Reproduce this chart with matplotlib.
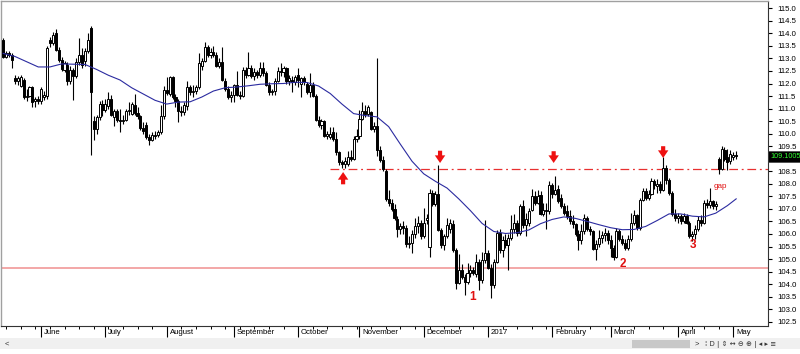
import matplotlib
matplotlib.use("Agg")
import matplotlib.pyplot as plt
import matplotlib.transforms as mtrans
from matplotlib.patches import Rectangle
import pandas as pd

# daily bars (Good Friday missing in the feed)
dates = pd.bdate_range("2016-05-13", "2017-05-02")
dates = dates[dates != pd.Timestamp("2017-04-14")]

opens = [
    113.73, 113.06, 113.20, 113.15, 112.20, 112.08, 111.90, 112.15, 111.45, 111.50, 111.85, 111.30, 111.38,  # may
    111.30, 111.45, 111.50, 113.75, 113.60, 114.00, 113.35, 112.95, 112.55, 112.75, 112.10, 112.55, 112.30,
    112.85, 113.15, 112.90, 113.30, 114.20, 110.50, 110.18, 110.65, 111.20,  # jun
    110.95, 111.10, 111.40, 110.65, 110.90, 110.55, 110.50, 110.55, 110.90, 110.80, 111.15, 110.82, 110.70,
    110.22, 110.35, 109.85, 109.75, 109.95, 109.95, 110.05, 110.70,  # jul
    111.75, 111.60, 112.25, 111.45, 111.30, 110.90, 110.85, 111.10, 111.85, 111.65, 111.70, 111.85, 112.70,
    112.90, 113.45, 113.15, 113.25, 113.15, 112.70, 112.85, 112.10, 111.80, 111.45,  # aug
    111.55, 111.95, 111.55, 111.50, 112.55, 112.35, 112.60, 112.30, 112.45, 112.35, 112.60, 112.40, 111.95,
    111.65, 111.70, 112.10, 112.50, 112.45, 112.60, 112.10, 112.15, 112.05,  # sep
    112.35, 112.00, 112.20, 112.00, 111.65, 111.95, 111.50, 110.55, 110.35, 110.50, 109.90, 109.85, 110.05,
    109.78, 109.25, 108.85, 108.80, 108.80, 109.05, 109.00, 109.80,  # oct
    109.90, 110.60, 110.90, 110.80, 110.85, 110.20, 110.30, 109.35, 108.95, 108.50, 107.40, 107.25, 107.00,
    106.60, 106.20, 106.30, 106.25, 105.60, 105.65, 106.00, 106.30, 106.45,  # nov
    105.90, 106.55, 105.50, 107.65, 107.20, 107.60, 106.15, 105.55, 105.90, 106.20, 106.40, 105.35, 104.05,
    104.55, 104.30, 104.10, 104.45, 104.55, 104.40, 104.90, 104.15, 104.95,  # dec
    105.25, 104.65, 103.95, 104.90, 106.05, 105.35, 105.75, 105.55, 105.85, 106.20, 106.45, 106.05, 107.10,
    106.35, 106.45, 106.95, 107.50, 107.25, 107.55, 106.80, 106.95, 106.90,  # jan
    107.95, 107.60, 107.80, 107.45, 107.10, 106.90, 106.70, 106.50, 106.40, 106.00, 105.75, 106.10, 106.65,
    106.20, 106.10, 105.40, 105.60, 105.85, 105.95, 106.05,  # feb
    105.75, 105.45, 105.10, 106.10, 105.80, 105.65, 105.45, 105.80, 106.45, 106.75, 106.25, 107.35, 107.70,
    107.45, 107.60, 108.10, 107.90, 108.00, 107.75, 108.65, 108.15, 107.65, 106.80,  # mar
    106.65, 106.70, 106.50, 106.70, 106.45, 105.90, 106.00, 106.20, 106.55, 106.45, 107.25, 107.15, 107.30,
    107.10, 109.00, 108.60, 109.35, 109.05, 108.90,  # apr
    109.05, 109.15,  # may
]
highs = [
    113.80, 113.30, 113.28, 113.20, 112.35, 112.30, 112.35, 112.20, 111.80, 111.90, 111.90, 111.45, 111.50,
    111.85, 111.70, 113.50, 113.85, 114.05, 114.17, 113.45, 113.05, 112.90, 112.85, 112.70, 112.60, 113.00,
    113.80, 113.40, 113.40, 114.00, 114.30, 110.70, 110.75, 111.30, 111.35,
    111.40, 111.65, 111.55, 111.00, 111.00, 111.00, 110.75, 111.00, 111.25, 111.25, 111.60, 111.05, 110.75,
    110.45, 110.45, 110.00, 110.05, 110.10, 110.15, 111.15, 111.90,
    112.25, 112.30, 112.30, 111.60, 111.40, 111.10, 111.25, 112.10, 111.95, 111.95, 111.95, 113.20, 113.00,
    113.65, 113.55, 113.40, 113.50, 113.25, 113.00, 113.45, 112.20, 111.90, 111.70,
    112.00, 112.50, 111.70, 112.65, 112.65, 113.25, 112.75, 112.60, 112.55, 112.85, 112.85, 112.50, 112.05,
    111.80, 112.20, 112.65, 112.80, 112.70, 112.65, 112.35, 112.30, 112.35,
    112.60, 112.25, 112.30, 112.05, 112.40, 112.05, 111.60, 110.70, 110.60, 110.55, 110.10, 110.25, 110.25,
    110.05, 109.30, 108.95, 109.05, 109.30, 109.35, 109.90, 110.20,
    110.95, 111.25, 111.15, 111.15, 110.90, 110.45, 113.00, 109.50, 109.10, 108.60, 107.75, 107.40, 107.20,
    106.70, 106.45, 106.50, 106.35, 105.90, 106.15, 106.65, 106.70, 106.55,
    107.05, 106.80, 107.80, 107.75, 107.70, 108.75, 106.25, 106.00, 106.65, 106.60, 106.55, 105.45, 105.20,
    104.80, 104.40, 104.85, 104.75, 104.70, 105.20, 105.00, 105.30, 106.55,
    105.35, 104.80, 105.00, 106.15, 106.20, 105.90, 106.00, 106.00, 106.75, 106.80, 106.55, 107.20, 107.35,
    106.85, 107.05, 107.80, 107.70, 107.75, 107.70, 107.25, 107.25, 108.10,
    108.05, 108.30, 107.95, 107.60, 107.25, 107.15, 106.95, 106.75, 106.45, 106.15, 106.40, 106.80, 106.70,
    106.30, 106.15, 105.75, 106.15, 106.10, 106.25, 106.15,
    105.95, 105.55, 106.25, 106.20, 105.95, 105.80, 105.95, 106.85, 106.95, 106.80, 107.45, 107.85, 107.85,
    107.75, 108.25, 108.20, 108.20, 108.10, 109.05, 108.75, 108.25, 107.70, 107.00,
    106.85, 106.80, 106.85, 106.80, 106.50, 106.10, 106.35, 106.70, 106.75, 107.35, 107.40, 107.85, 107.35,
    107.30, 109.05, 109.50, 109.45, 109.40, 109.35,
    109.25, 109.30,
]
lows = [
    113.00, 113.00, 113.05, 112.60, 111.98, 111.95, 111.85, 111.40, 111.30, 111.45, 111.05, 111.05, 111.20,
    111.20, 111.35, 111.40, 113.45, 113.55, 113.30, 112.85, 112.50, 112.45, 111.95, 112.00, 111.35, 112.20,
    112.75, 112.60, 112.70, 113.20, 109.15, 109.75, 110.00, 110.55, 110.70,
    110.85, 111.00, 110.70, 110.30, 110.45, 110.05, 110.40, 110.50, 110.75, 110.75, 110.75, 110.60, 110.15,
    110.00, 109.80, 109.55, 109.70, 109.80, 109.85, 110.00, 110.60,
    111.55, 111.50, 111.40, 111.05, 110.45, 110.70, 110.75, 110.95, 111.55, 111.45, 111.60, 111.80, 112.55,
    112.85, 113.05, 113.00, 113.05, 112.65, 112.60, 112.10, 111.70, 111.40, 111.25,
    111.25, 111.50, 111.40, 111.45, 112.20, 112.30, 112.20, 112.15, 112.20, 112.25, 112.30, 111.90, 111.55,
    111.55, 111.55, 112.05, 112.30, 112.25, 112.00, 111.95, 111.65, 111.95,
    111.85, 111.45, 111.95, 111.60, 111.45, 111.45, 110.50, 110.25, 110.20, 109.85, 109.80, 109.80, 109.70,
    109.15, 108.75, 108.62, 108.62, 108.70, 108.90, 108.95, 109.65,
    109.80, 110.55, 110.65, 110.70, 110.15, 110.05, 109.10, 108.85, 108.50, 107.30, 107.10, 106.90, 106.55,
    105.88, 106.00, 106.00, 105.50, 105.45, 105.25, 105.85, 106.05, 105.80,
    105.85, 106.40, 105.10, 107.10, 107.10, 106.10, 105.45, 105.35, 105.85, 106.05, 105.30, 103.80, 104.00,
    104.20, 103.55, 104.00, 104.30, 104.35, 104.30, 103.75, 104.05, 104.85,
    104.60, 103.45, 103.85, 104.85, 105.25, 105.10, 105.45, 104.55, 105.75, 106.05, 105.90, 105.95, 106.25,
    105.90, 106.30, 106.90, 107.15, 107.20, 106.75, 106.70, 106.20, 106.80,
    107.45, 107.55, 107.25, 107.05, 106.75, 106.60, 106.40, 106.25, 105.90, 105.35, 105.60, 106.00, 106.10,
    105.95, 105.35, 104.95, 105.50, 105.65, 105.70, 105.60,
    105.10, 104.95, 105.05, 105.70, 105.55, 105.35, 105.35, 105.70, 106.35, 106.15, 106.15, 107.30, 107.35,
    107.35, 107.55, 107.80, 107.65, 107.65, 107.70, 108.00, 107.55, 106.70, 106.50,
    106.45, 106.40, 106.45, 106.40, 105.85, 105.70, 105.80, 106.10, 106.30, 106.40, 107.05, 107.05, 107.00,
    106.95, 108.40, 108.55, 108.90, 108.55, 108.80,
    108.95, 109.00,
]
closes = [
    113.06, 113.20, 113.15, 112.92, 112.08, 112.22, 112.25, 111.45, 111.50, 111.85, 111.28, 111.38, 111.30,
    111.80, 111.55, 113.42, 113.60, 113.95, 113.35, 112.95, 112.58, 112.80, 112.10, 112.55, 112.30, 112.85,
    113.15, 112.75, 113.30, 113.75, 111.65, 110.18, 110.65, 111.20, 110.95,
    111.20, 111.40, 110.75, 110.92, 110.55, 110.50, 110.55, 110.90, 110.90, 111.20, 110.82, 110.70, 110.22,
    110.10, 109.85, 109.75, 109.95, 109.90, 110.05, 110.70, 111.75,
    111.62, 112.25, 111.45, 111.30, 110.90, 110.85, 111.15, 111.85, 111.65, 111.70, 111.85, 112.80, 112.90,
    113.45, 113.15, 113.25, 113.15, 112.70, 112.85, 112.15, 111.80, 111.45, 111.55,
    111.95, 111.55, 111.50, 112.55, 112.35, 112.60, 112.30, 112.45, 112.35, 112.60, 112.40, 111.95, 111.65,
    111.70, 112.10, 112.50, 112.45, 112.60, 112.10, 112.20, 112.05, 112.25,
    112.15, 112.20, 112.05, 111.65, 111.95, 111.50, 110.55, 110.35, 110.50, 109.90, 110.00, 109.98, 109.78,
    109.25, 108.85, 108.80, 108.90, 109.05, 109.00, 109.80, 109.90,
    110.60, 110.90, 110.80, 111.05, 110.20, 110.30, 109.35, 108.95, 108.60, 107.40, 107.25, 107.00, 106.65,
    106.20, 106.30, 106.25, 105.60, 105.65, 106.00, 106.30, 106.45, 105.90,
    106.45, 106.65, 107.65, 107.20, 107.60, 106.15, 105.55, 105.90, 106.35, 106.45, 105.35, 104.05, 104.55,
    104.30, 104.10, 104.45, 104.55, 104.45, 104.90, 104.15, 104.95, 105.25,
    104.65, 103.95, 104.90, 106.05, 105.35, 105.75, 105.55, 105.85, 106.20, 106.45, 106.05, 107.10, 106.35,
    106.60, 106.90, 107.50, 107.25, 107.50, 106.80, 106.95, 106.90, 107.95,
    107.60, 107.75, 107.30, 107.10, 106.85, 106.70, 106.50, 106.40, 106.00, 105.75, 106.10, 106.65, 106.20,
    106.10, 105.40, 105.60, 105.85, 105.95, 106.05, 105.75,
    105.45, 105.10, 106.10, 105.80, 105.65, 105.45, 105.80, 106.45, 106.75, 106.25, 107.35, 107.70, 107.45,
    107.60, 108.10, 107.95, 108.00, 107.75, 108.65, 108.15, 107.65, 106.80, 106.65,
    106.70, 106.50, 106.70, 106.45, 105.90, 106.00, 106.20, 106.55, 106.45, 107.25, 107.15, 107.30, 107.10,
    107.20, 108.60, 109.40, 109.00, 108.85, 109.20,
    109.15, 109.10,
]

# moving average read every 4th bar (plus the last one)
ma_bar = list(range(0, 252, 4)) + [251]
ma_val = [
    113.20, 113.08, 112.87, 112.66, 112.66, 112.78, 112.77, 112.76, 112.56, 112.33, 112.14, 111.83, 111.58,
    111.33, 111.18, 111.26, 111.27, 111.46, 111.70, 111.83, 111.86, 111.91, 111.97, 111.99, 112.00, 112.05,
    112.04, 111.90, 111.60, 111.18, 110.80, 110.72, 110.67, 110.28, 109.58, 108.90, 108.40, 108.10, 107.83,
    107.40, 106.93, 106.42, 106.10, 106.02, 106.05, 106.16, 106.41, 106.58, 106.68, 106.62, 106.50, 106.37,
    106.25, 106.17, 106.18, 106.30, 106.54, 106.80, 106.80, 106.71, 106.68, 106.83, 107.13, 107.40,
]

support = 104.65
resistance = 108.58
resistance_from = 112
last_price = "109.1005"

# markers drawn on the chart: (bar, tail, tip)
arrows_up = [(116.4, 107.98, 108.47)]
arrows_down = [(149.6, 109.32, 108.83), (188.5, 109.30, 108.83), (226.0, 109.50, 109.03)]
numbers = [("1", 160.7, 103.49), ("2", 212.2, 104.79), ("3", 236.3, 105.56)]
gap_label = ("gap", 245.5, 107.88)

plt.rcParams['font.family'] = ['Liberation Sans', 'DejaVu Sans']

fig = plt.figure(figsize=(8, 3.54), dpi=100)
ax = fig.add_axes([1 / 800, 1 - 326 / 354, 767 / 800, 325 / 354])

x = list(range(len(closes)))
ax.vlines(x, lows, highs, color="black", linewidth=0.8, zorder=2)
bottoms = [min(o, c) for o, c in zip(opens, closes)]
heights = [max(abs(c - o), 0.03) for o, c in zip(opens, closes)]
colors = ["white" if c >= o else "black" for o, c in zip(opens, closes)]
ax.bar(x, heights, bottom=bottoms, width=0.72, color=colors, edgecolor="black",
       linewidth=0.7, zorder=3)

ax.plot(ma_bar, ma_val, color="#2b2ba0", linewidth=0.8, zorder=4)

ax.axhline(support, color="#f2a0a0", linewidth=1.3, zorder=1)
ax.hlines(resistance, resistance_from, 262, color="#e83030", linewidth=0.9,
          linestyles=(0, (7, 3, 1.5, 3)), zorder=1)

arrow_style = "simple,head_width=0.75,head_length=0.55,tail_width=0.3"
for bx, tail, tip in arrows_up + arrows_down:
    ax.annotate("", xy=(bx, tip), xytext=(bx, tail),
                arrowprops=dict(arrowstyle=arrow_style, color="#ee1111", lw=0,
                                shrinkA=0, shrinkB=0), zorder=6)
for s, bx, py in numbers:
    ax.text(bx, py, s, color="#e01010", fontsize=8.5, fontweight="bold",
            ha="center", va="center", zorder=6)
ax.text(gap_label[1], gap_label[2], gap_label[0], color="#e01010", fontsize=5.8,
        ha="center", va="center", zorder=6)

ax.set_xlim(-0.75, 261.9)
ax.set_ylim(102.33, 115.29)

# price scale on the right
ax.yaxis.tick_right()
ax.set_yticks([102.5 + 0.5 * k for k in range(26)])
ax.set_yticklabels(["%.1f" % (102.5 + 0.5 * k) for k in range(26)])
ax.tick_params(axis="y", length=3, width=0.8, pad=3.5, labelsize=5.6, colors="black")

# months on the time scale
month_start = [i for i in range(1, len(dates)) if dates[i].month != dates[i - 1].month]
month_lab = ["2017" if dates[i].month == 1 else dates[i].strftime("%B") for i in month_start]
mondays = [i for i, d in enumerate(dates) if d.weekday() == 0]
ax.set_xticks(month_start)
ax.set_xticklabels(month_lab, ha="left")
ax.set_xticks(mondays, minor=True)
ax.tick_params(axis="x", which="major", length=8, width=0.8, pad=-5.5, labelsize=5.6)
ax.tick_params(axis="x", which="minor", length=2.5, width=0.7)
shift = mtrans.ScaledTranslation(2 / 72, 0, fig.dpi_scale_trans)
for lab in ax.get_xticklabels():
    lab.set_transform(lab.get_transform() + shift)

for side in ["left", "top"]:
    ax.spines[side].set_color("#a0a0a0")
    ax.spines[side].set_linewidth(1.0)
for side in ["right", "bottom"]:
    ax.spines[side].set_color("#333333")
    ax.spines[side].set_linewidth(0.8)

# last price tag, drawn over the 109.0 label like the terminal does
tag = mtrans.blended_transform_factory(ax.transAxes, ax.transData)
ax.text(1.0025, 109.10, last_price, transform=tag, color="#33ff33", fontsize=5.2,
        ha="left", va="center", zorder=10, clip_on=False,
        bbox=dict(boxstyle="square,pad=0.25", facecolor="black", edgecolor="#444444", linewidth=0.5))

# scroll bar strip under the chart
fig.patches.append(Rectangle((0, 1 - 349 / 354), 1, 11 / 354, transform=fig.transFigure,
                             facecolor="#f0f0f0", edgecolor="none"))
fig.patches.append(Rectangle((632 / 800, 1 - 348 / 354), 58 / 800, 8 / 354, transform=fig.transFigure,
                             facecolor="#c8c8c8", edgecolor="none"))
fig.text(5 / 800, 1 - 344 / 354, "<", fontsize=5.5, va="center", color="#333333")
fig.text(695 / 800, 1 - 344 / 354, ">", fontsize=5.5, va="center", color="#333333")
fig.text(705 / 800, 1 - 344 / 354, "⁞ D | ⇕ ↔ ⊖ ⊕ | ◂ ▸ ≡", fontsize=5, va="center",
         color="#333333", family=["DejaVu Sans"])

fig.savefig("out.png", dpi=100)
